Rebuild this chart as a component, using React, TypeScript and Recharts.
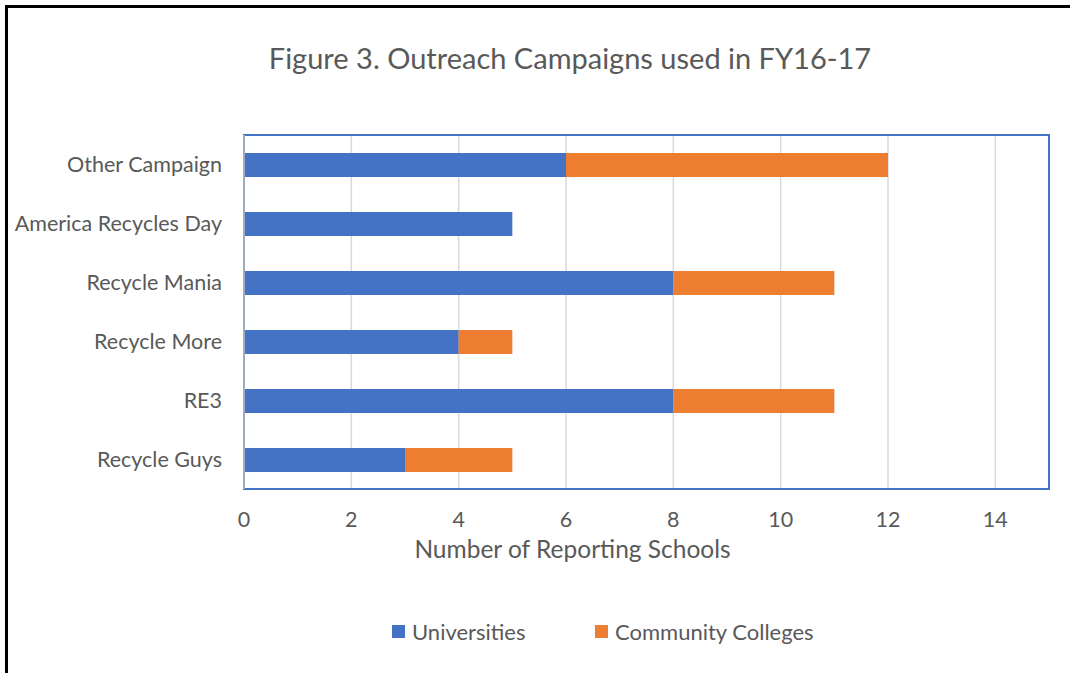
import React from 'react';
import { BarChart, Bar, XAxis, YAxis, CartesianGrid, ReferenceArea } from 'recharts';

// Outreach campaigns, top to bottom as drawn
const campaigns = ['Other Campaign', 'America Recycles Day', 'Recycle Mania', 'Recycle More', 'RE3', 'Recycle Guys'];
const universities = [6, 5, 8, 4, 8, 3];
const communityColleges = [6, 0, 3, 1, 3, 2];
const xTicks = [0, 2, 4, 6, 8, 10, 12, 14];

const BLUE = '#4472C4';
const ORANGE = '#ED7D31';
const TEXT = '#595959';
const FONT = 'Lato, "Open Sans", sans-serif';

const data = campaigns.map((name, i) => ({
  name,
  universities: universities[i],
  community: communityColleges[i],
}));

const legendItems = [
  { label: 'Universities', color: BLUE, left: 392 },
  { label: 'Community Colleges', color: ORANGE, left: 595 },
];

const App = () => {
  return (
    <div style={{ position: 'absolute', left: 0, top: 0, width: 1070, height: 673, overflow: 'hidden', background: '#fff' }}>
      {/* outer frame */}
      <div style={{ position: 'absolute', left: 5, top: 5, width: 1200, height: 800, border: '3px solid #000', boxSizing: 'border-box' }} />
      <div style={{ position: 'absolute', left: 0, width: 1140, top: 40, textAlign: 'center', fontFamily: FONT, fontSize: 29, color: TEXT }}>
        Figure 3. Outreach Campaigns used in FY16-17
      </div>
      <div style={{ position: 'absolute', left: 0, top: 0 }}>
        <BarChart
          width={1070}
          height={673}
          data={data}
          layout="vertical"
          barSize={24}
          margin={{ top: 135, right: 21, left: 10, bottom: 144 }}
        >
          <CartesianGrid horizontal={false} stroke="#d9d9d9" strokeWidth={1.5} />
          <ReferenceArea x1={0} x2={15} fill="none" stroke={BLUE} strokeWidth={2} fillOpacity={0} />
          <XAxis
            type="number"
            domain={[0, 15]}
            ticks={xTicks}
            height={40}
            axisLine={{ stroke: BLUE, strokeWidth: 2 }}
            tickLine={false}
            tick={{ fill: TEXT, fontSize: 21.5, fontFamily: FONT }}
            tickMargin={17}
            label={{ value: 'Number of Reporting Schools', position: 'insideBottom', offset: -29, dx: -74, fill: TEXT, fontSize: 24.5, fontFamily: FONT }}
          />
          <YAxis
            type="category"
            dataKey="name"
            width={234}
            axisLine={{ stroke: '#bfbfbf', strokeWidth: 1.5 }}
            tickLine={false}
            tick={{ fill: TEXT, fontSize: 21.5, fontFamily: FONT }}
            tickMargin={16}
          />
          <Bar dataKey="universities" stackId="a" fill={BLUE} isAnimationActive={false} name="Universities" />
          <Bar dataKey="community" stackId="a" fill={ORANGE} isAnimationActive={false} name="Community Colleges" />
        </BarChart>
      </div>
      {legendItems.map((it) => (
        <div key={it.label} style={{ position: 'absolute', left: it.left, top: 618, display: 'flex', alignItems: 'center', fontFamily: FONT, fontSize: 22, color: TEXT }}>
          <span style={{ width: 13, height: 13, background: it.color, display: 'inline-block', marginRight: 7 }} />
          <span>{it.label}</span>
        </div>
      ))}
    </div>
  );
};

export default App;
